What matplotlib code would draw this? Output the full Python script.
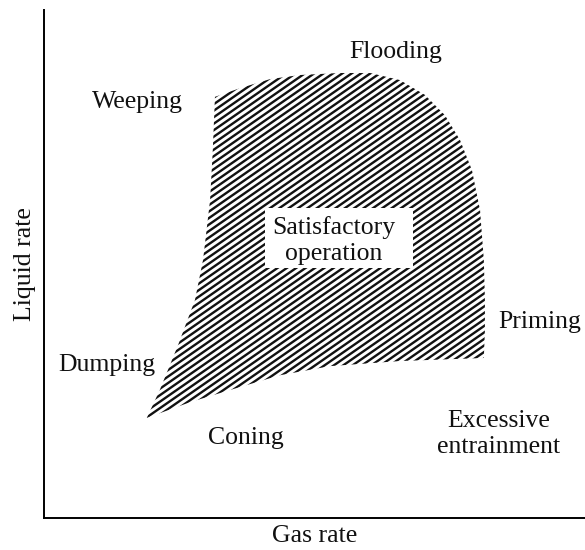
import numpy as np
import matplotlib
matplotlib.use("Agg")
import matplotlib.pyplot as plt
from matplotlib.patches import Polygon, Rectangle
from matplotlib.collections import LineCollection

# outline of the satisfactory-operation region (gas rate, liquid rate), arbitrary units 0-100
region_x = [31.6, 36.2, 41.8, 47.3, 54.7, 60.3, 65.8, 70.4, 74.1, 76.9, 79.1, 80.6, 81.3,
            81.5, 81.5, 81.3, 65.8, 52.9, 43.6, 34.4, 27.0, 19.0, 21.4, 24.8, 27.9, 29.4,
            30.7, 31.2]
region_y = [82.9, 84.6, 86.4, 87.2, 87.6, 87.6, 86.2, 83.3, 79.3, 74.4, 68.5, 60.6, 50.8,
            42.9, 37.0, 31.5, 30.9, 29.9, 28.1, 25.2, 22.8, 19.7, 25.2, 34.1, 42.9, 50.8,
            62.6, 72.4]

labels = ["Flooding", "Weeping", "Satisfactory\noperation", "Priming", "Dumping",
          "Coning", "Excessive\nentrainment"]
label_x = [65.1, 17.2, 53.6, 91.7, 11.6, 37.3, 84.1]
label_y = [91.7, 81.9, 54.6, 38.6, 30.1, 15.7, 16.5]

plt.rcParams['font.family'] = ['Liberation Serif', 'DejaVu Serif']

fig = plt.figure(figsize=(5.85, 5.5), dpi=100)
ax = fig.add_axes([44 / 585, 32 / 550, 541 / 585, 508 / 550])
ax.set_xlim(0, 100)
ax.set_ylim(0, 100)

# hatched region
poly = Polygon(np.column_stack([region_x, region_y]), closed=True,
               facecolor='none', edgecolor='none')
ax.add_patch(poly)
slope = 0.74
step = 1.28
segs = []
for c in np.arange(-80, 100, step):
    segs.append([(0, c), (100, c + slope * 100)])
hatch = LineCollection(segs, colors='#111111', linewidths=1.7)
ax.add_collection(hatch)
hatch.set_clip_path(poly)

# white box behind the central label
ax.add_patch(Rectangle((40.9, 49.2), 27.3, 11.8, facecolor='white',
                       edgecolor='none', zorder=3))

for t, x, y in zip(labels, label_x, label_y):
    ax.text(x, y, t, ha='center', va='center', fontsize=18.5, zorder=4,
            linespacing=1.25, color='#111111')

ax.set_xlabel("Gas rate", fontsize=18.5, labelpad=5, color='#111111')
ax.set_ylabel("Liquid rate", fontsize=18.5, labelpad=6, color='#111111')

ax.spines['top'].set_visible(False)
ax.spines['right'].set_visible(False)
ax.spines['left'].set_linewidth(1.4)
ax.spines['bottom'].set_linewidth(1.4)
ax.set_xticks([])
ax.set_yticks([])

fig.savefig("out.png", dpi=100)
